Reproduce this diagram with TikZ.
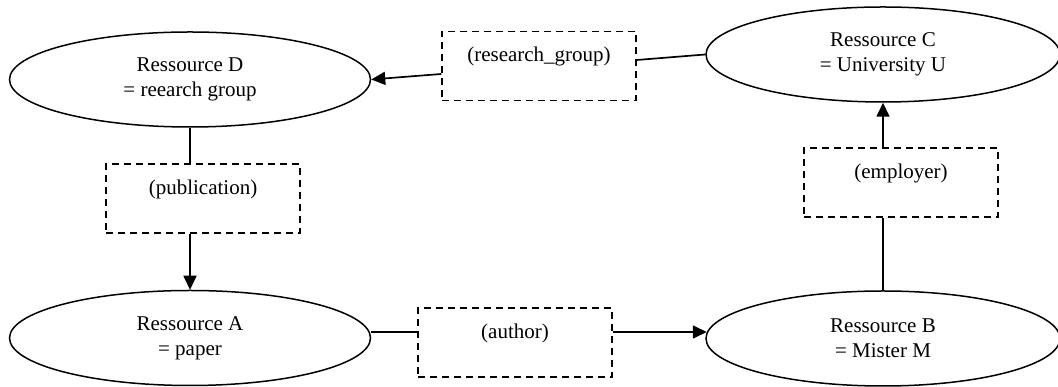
\documentclass[tikz,border=0pt]{standalone}
\usepackage{fontspec}
\setmainfont{Liberation Serif}
\usetikzlibrary{arrows.meta,shapes.geometric}
\begin{document}
\begin{tikzpicture}[x=1pt,y=1pt,
  every node/.style={font=\fontsize{21}{25}\selectfont},
  res/.style={draw, ellipse, line width=1.5pt, inner sep=0pt,
              minimum height=95pt, align=center},
  rel/.style={draw, line width=1.5pt, dash pattern=on 7pt off 5pt,
              minimum width=194pt, inner xsep=0pt, inner ysep=0pt,
              text height=30.4pt, text depth=38.6pt},
  link/.style={line width=1.7pt},
  arr/.style={link, -{Triangle[length=14pt,width=13pt]}}]
  \useasboundingbox (0,0) rectangle (1058,387);

  % resources
  \node[res, minimum width=361pt] (D) at (190,307.5) {Ressource D\\= reearch group};
  \node[res, minimum width=354pt] (C) at (883,332.5) {Ressource C\\= University U};
  \node[res, minimum width=361pt] (A) at (190,49) {Ressource A\\= paper};
  \node[res, minimum width=354pt] (B) at (883,48.5) {Ressource B\\= Mister M};

  % relations
  \node[rel] (rg) at (539,321) {(research\_group)};
  \node[rel] (pub) at (203,188.5) {(publication)};
  \node[rel] (emp) at (901,204.5) {(employer)};
  \node[rel] (aut) at (515,44.5) {(author)};

  % connection points on the relation boxes
  \coordinate (rgin) at ([yshift=6pt]rg.east);
  \coordinate (rgout) at ([yshift=-8pt]rg.west);
  \coordinate (autin) at ([yshift=10.5pt]aut.west);
  \coordinate (autout) at ([yshift=10.5pt]aut.east);

  % connectors
  \draw[link] (C.west) -- (rgin);
  \draw[arr] (rgout) -- (D.east);
  \draw[link] (D.south) -- (D.south |- pub.north);
  \draw[arr] (A.north |- pub.south) -- (A.north);
  \draw[link] (A.east |- autin) -- (autin);
  \draw[arr] (autout) -- ([xshift=1.5pt]B.west |- autout);
  \draw[link] (B.north) -- (B.north |- emp.south);
  \draw[arr] (C.south |- emp.north) -- (C.south);
\end{tikzpicture}
\end{document}
